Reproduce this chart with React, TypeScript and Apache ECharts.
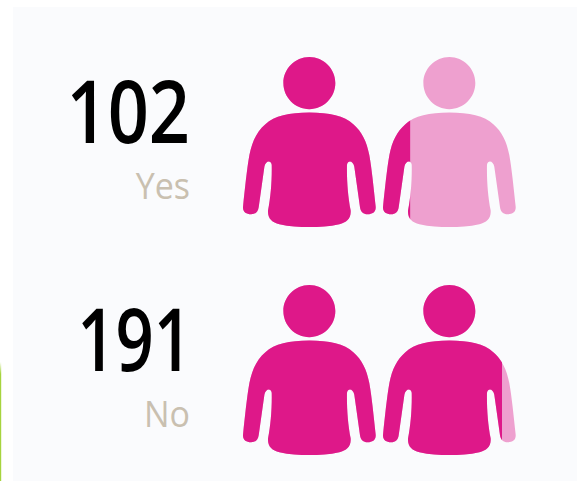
import React, { useEffect, useRef } from "react";
import * as echarts from "echarts";

const categories = ["Yes", "No"];
const values = [102, 191];

const DARK = "#de1889";
const LIGHT = "#eea0cf";
const PERSON_W = 132.7;
const PERSON_H = 170;
const PERSON_GAP = 140;
// The digit "1" is narrower in the reference's font: horizontal fit of each row's number
const NUMBER_FIT = [
  { scaleX: 1, right: 190 },
  { scaleX: 0.93, right: 192 },
];

// Person outline, in units of 3x the pixel size, centred on the body axis
const personPath =
  "M0 -508 C43 -508 78 -473 78 -430 C78 -387 43 -352 0 -352 C-43 -352 -78 -387 -78 -430 C-78 -473 -43 -508 0 -508 Z " +
  "M0 -342 C60 -342 105 -332 132 -307 C158 -285 172 -255 180 -215 C188 -170 193 -115 199 -62 C201 -45 190 -38 175 -38 " +
  "C162 -38 154 -46 152 -60 L135 -180 C132 -198 116 -202 113 -186 C112 -140 116 -90 124 -50 C126 -25 112 -14 90 -8 C60 0 30 0 0 0 " +
  "C-30 0 -60 0 -90 -8 C-112 -14 -126 -25 -124 -50 C-116 -90 -112 -140 -113 -186 C-116 -202 -132 -198 -135 -180 L-152 -60 " +
  "C-154 -46 -162 -38 -175 -38 C-190 -38 -201 -45 -199 -62 C-193 -115 -188 -170 -180 -215 C-172 -255 -158 -285 -132 -307 C-105 -332 -60 -342 0 -342 Z";

export default function App() {
  const ref = useRef<HTMLDivElement>(null);
  useEffect(() => {
    document.body.style.margin = "0";
    const chart = echarts.init(ref.current!, undefined, { renderer: "svg" });
    chart.setOption({
      animation: false,
      backgroundColor: "#ffffff",
      grid: { left: 243, width: 272, top: 28, height: 456, outerBoundsMode: "none" },
      xAxis: { type: "value", min: -60, max: 203.6, show: false },
      yAxis: { type: "category", data: categories, inverse: true, show: false },
      graphic: [
        { type: "rect", z: -10, shape: { x: 13, y: 7, width: 564, height: 474 }, style: { fill: "#fafbfd" } },
        {
          type: "rect",
          z: -10,
          shape: { x: 0, y: 362, width: 1.2, height: 119 },
          style: {
            fill: new echarts.graphic.LinearGradient(0, 0, 0, 1, [
              { offset: 0, color: "#ffffff" },
              { offset: 0.1, color: "#a6d43e" },
              { offset: 1, color: "#a6d43e" },
            ]),
          },
        },
      ],
      series: [
        {
          type: "custom",
          coordinateSystem: "cartesian2d",
          clip: false,
          encode: { x: 0, y: 1 },
          data: values.map((v, i) => [v, i]),
          renderItem: (params: any, api: any) => {
            const v = api.value(0);
            const idx = api.value(1);
            const fillEnd = api.coord([v, idx]);
            const cy = fillEnd[1];
            const left = params.coordSys.x;
            const top = cy - 85;
            const children: any[] = [];
            const shapeFor = (k: number) => ({
              pathData: personPath,
              layout: "cover",
              x: left + k * PERSON_GAP,
              y: top,
              width: PERSON_W,
              height: PERSON_H,
            });
            [0, 1].forEach((k) => {
              children.push({ type: "path", shape: shapeFor(k), style: { fill: LIGHT } });
            });
            [0, 1].forEach((k) => {
              children.push({
                type: "path",
                shape: shapeFor(k),
                style: { fill: DARK },
                clipPath: {
                  type: "rect",
                  shape: { x: left - 2, y: top - 2, width: fillEnd[0] - left + 2, height: PERSON_H + 4 },
                },
              });
            });
            children.push({
              type: "text",
              x: NUMBER_FIT[idx].right,
              y: cy - 33,
              scaleX: NUMBER_FIT[idx].scaleX,
              scaleY: 1.2,
              style: {
                x: 0,
                y: 0,
                text: String(values[idx]),
                fill: "#000000",
                font: '600 72px "Open Sans"',
                align: "right",
                verticalAlign: "middle",
              },
            });
            children.push({
              type: "text",
              x: 190,
              y: cy + 42.5,
              scaleY: 1.08,
              style: {
                x: 0,
                y: 0,
                text: categories[idx],
                fill: "#c9c0b0",
                font: '34px "Open Sans"',
                align: "right",
                verticalAlign: "middle",
              },
            });
            return { type: "group", children };
          },
        },
      ],
    });
    return () => chart.dispose();
  }, []);
  return <div ref={ref} style={{ width: 577, height: 481 }} />;
}
